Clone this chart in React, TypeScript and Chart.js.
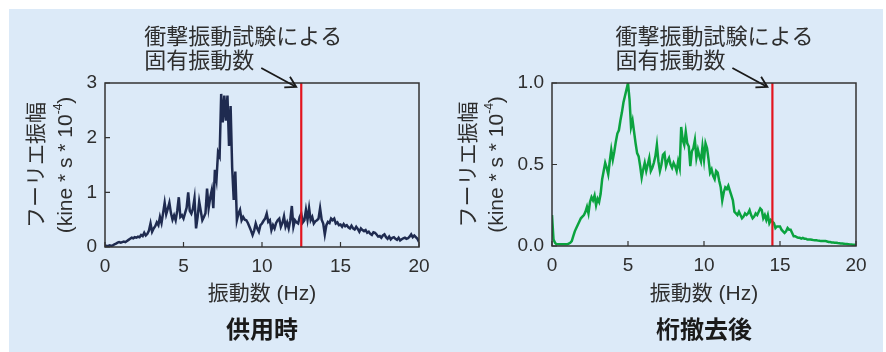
import React, { useEffect, useRef } from 'react';
import { Chart, registerables } from 'chart.js';

Chart.register(...registerables);

// ---- data (frequency grid 0.0 .. 20.0 Hz, 0.1 Hz step) ----
const FREQ_STEP = 0.1;
const freqs: number[] = Array.from({ length: 201 }, (_, i) => Math.round(i * FREQ_STEP * 10) / 10);

// 供用時 Fourier amplitude (kine*s*10^-4)
const serviceAmp: number[] = [
  0.03, 0.02, 0.02, 0.03, 0.02, 0.03, 0.05, 0.06, 0.08, 0.09,
  0.08, 0.09, 0.10, 0.09, 0.11, 0.13, 0.15, 0.17, 0.16, 0.18,
  0.17, 0.19, 0.18, 0.22, 0.20, 0.26, 0.21, 0.24, 0.30, 0.43,
  0.28, 0.34, 0.38, 0.45, 0.40, 0.55, 0.44, 0.62, 0.81, 0.60,
  0.70, 0.81, 0.62, 0.50, 0.58, 0.49, 0.66, 0.91, 0.55, 0.58,
  0.52, 0.62, 0.72, 1.00, 0.66, 0.61, 0.70, 0.89, 0.34, 0.55,
  0.83, 0.66, 0.49, 0.55, 0.62, 1.07, 0.71, 0.90, 1.04, 0.71,
  1.41, 1.23, 1.73, 1.66, 2.80, 2.28, 2.77, 2.31, 2.77, 1.85,
  2.58, 1.45, 0.86, 1.38, 0.49, 0.61, 0.68, 0.49, 0.55, 0.50,
  0.49, 0.44, 0.37, 0.30, 0.22, 0.30, 0.43, 0.34, 0.28, 0.40,
  0.43, 0.48, 0.52, 0.61, 0.46, 0.49, 0.31, 0.40, 0.34, 0.44,
  0.49, 0.52, 0.37, 0.44, 0.56, 0.37, 0.45, 0.34, 0.49, 0.75,
  0.37, 0.49, 0.45, 0.43, 0.55, 0.61, 0.45, 0.49, 0.68, 0.50,
  0.71, 0.49, 0.55, 0.43, 0.47, 0.49, 0.52, 0.71, 0.50, 0.43,
  0.23, 0.40, 0.46, 0.44, 0.52, 0.49, 0.52, 0.43, 0.45, 0.40,
  0.41, 0.37, 0.42, 0.38, 0.40, 0.36, 0.34, 0.39, 0.34, 0.32,
  0.37, 0.33, 0.28, 0.34, 0.31, 0.29, 0.31, 0.26, 0.28, 0.24,
  0.22, 0.27, 0.26, 0.23, 0.19, 0.20, 0.17, 0.21, 0.23, 0.18,
  0.15, 0.19, 0.14, 0.17, 0.18, 0.15, 0.13, 0.17, 0.12, 0.14,
  0.16, 0.17, 0.15, 0.16, 0.19, 0.23, 0.18, 0.21, 0.18, 0.15,
  0.09,
];

// 桁撤去後 Fourier amplitude (kine*s*10^-4)
const removedAmp: number[] = [
  0.19, 0.04, 0.02, 0.01, 0.01, 0.01, 0.01, 0.01, 0.01, 0.01,
  0.01, 0.015, 0.02, 0.03, 0.06, 0.09, 0.11, 0.13, 0.15, 0.17,
  0.18, 0.19, 0.21, 0.24, 0.20, 0.27, 0.30, 0.28, 0.31, 0.25,
  0.29, 0.27, 0.32, 0.41, 0.46, 0.51, 0.48, 0.44, 0.52, 0.59,
  0.53, 0.58, 0.64, 0.69, 0.71, 0.77, 0.82, 0.88, 0.92, 0.96,
  1.00, 0.90, 0.73, 0.77, 0.70, 0.63, 0.57, 0.55, 0.49, 0.42,
  0.47, 0.51, 0.46, 0.50, 0.54, 0.46, 0.48, 0.51, 0.55, 0.62,
  0.52, 0.46, 0.50, 0.56, 0.57, 0.49, 0.52, 0.54, 0.50, 0.48,
  0.51, 0.49, 0.46, 0.52, 0.48, 0.73, 0.65, 0.62, 0.70, 0.63,
  0.61, 0.49, 0.58, 0.60, 0.65, 0.54, 0.59, 0.55, 0.52, 0.61,
  0.53, 0.63, 0.60, 0.53, 0.45, 0.47, 0.43, 0.41, 0.46, 0.45,
  0.40, 0.36, 0.28, 0.33, 0.36, 0.35, 0.37, 0.34, 0.31, 0.28,
  0.21, 0.20, 0.19, 0.21, 0.19, 0.17, 0.18, 0.20, 0.19, 0.20,
  0.22, 0.19, 0.17, 0.18, 0.20, 0.19, 0.21, 0.23, 0.22, 0.17,
  0.19, 0.16, 0.19, 0.14, 0.16, 0.15, 0.14, 0.11, 0.12, 0.12,
  0.12, 0.10, 0.09, 0.08, 0.09, 0.11, 0.10, 0.10, 0.08, 0.06,
  0.06, 0.055, 0.05, 0.05, 0.045, 0.05, 0.045, 0.045, 0.04, 0.04,
  0.04, 0.038, 0.036, 0.035, 0.035, 0.033, 0.032, 0.03, 0.03, 0.03,
  0.03, 0.028, 0.025, 0.024, 0.022, 0.021, 0.02, 0.02, 0.018, 0.017,
  0.016, 0.015, 0.014, 0.013, 0.012, 0.011, 0.01, 0.009, 0.008, 0.007,
  0.006,
];

const xTicks: number[] = [0, 5, 10, 15, 20];
const serviceYTicks: number[] = [0, 1, 2, 3];
const removedYTicks: number[] = [0, 0.5, 1.0];
const serviceRefFreq = 12.5; // 衝撃振動試験による固有振動数
const removedRefFreq = 14.5;

const annotationLines: string[] = ['衝撃振動試験による', '固有振動数'];
const yTitleLine1 = 'フーリエ振幅';
const yTitleLine2 = ['(kine * s * 10', '-4', ')'];
const xTitle = '振動数 (Hz)';
const panelTitles: string[] = ['供用時', '桁撤去後'];

// ---- styles ----
const FONT = "'Liberation Sans', 'Noto Sans CJK JP', sans-serif";
const TEXT = '#2e2e2e';
const RED = '#e3141e';
const BG = '#dceaf8';

type PanelProps = {
  width: number;
  left: number;
  values: number[];
  color: string;
  yTicks: number[];
  yMax: number;
  decimals: number;
  refFreq: number;
  title: string;
  padLeft: number;
  padRight: number;
  padBottom: number;
  yTitleOffsets: [number, number];
};

function makeDecor(p: PanelProps) {
  return {
    id: 'decor',
    afterDatasetsDraw(chart: any) {
      const { ctx, chartArea } = chart;
      const { left, right, top, bottom } = chartArea;
      const xs = chart.scales.x;
      const ys = chart.scales.y;
      ctx.save();
      ctx.strokeStyle = '#333';
      ctx.lineWidth = 1.5;
      ctx.strokeRect(left, top, right - left, bottom - top);
      ctx.lineWidth = 1.2;
      ctx.beginPath();
      xTicks.forEach((v) => {
        const px = xs.getPixelForValue(v);
        ctx.moveTo(px, bottom);
        ctx.lineTo(px, bottom - 5);
      });
      p.yTicks.forEach((v) => {
        const py = ys.getPixelForValue(v);
        ctx.moveTo(left, py);
        ctx.lineTo(left + 5, py);
      });
      ctx.stroke();
      ctx.restore();
    },
    afterDraw(chart: any) {
      const { ctx, chartArea } = chart;
      const { left, right, top, bottom } = chartArea;
      const xs = chart.scales.x;
      const cx = (left + right) / 2;
      const cy = (top + bottom) / 2;
      const redX = xs.getPixelForValue(p.refFreq);
      ctx.save();
      ctx.fillStyle = TEXT;
      ctx.strokeStyle = '#1a1a1a';

      // annotation text
      ctx.font = `22px ${FONT}`;
      ctx.textAlign = 'left';
      ctx.textBaseline = 'middle';
      ctx.fillText(annotationLines[0], redX - 157, top - 45);
      ctx.fillText(annotationLines[1], redX - 157, top - 21);

      // arrow
      const sx = redX - 40, sy = top - 15, tx = redX - 5, ty = top + 4;
      const ang = Math.atan2(ty - sy, tx - sx);
      const hl = 12, ha = Math.PI / 6;
      ctx.lineWidth = 1.8;
      ctx.beginPath();
      ctx.moveTo(sx, sy);
      ctx.lineTo(tx, ty);
      ctx.moveTo(tx - hl * Math.cos(ang - ha), ty - hl * Math.sin(ang - ha));
      ctx.lineTo(tx, ty);
      ctx.lineTo(tx - hl * Math.cos(ang + ha), ty - hl * Math.sin(ang + ha));
      ctx.stroke();

      // x title
      ctx.textAlign = 'center';
      ctx.font = `21px ${FONT}`;
      ctx.fillText(xTitle, cx, 285);

      // panel title
      ctx.font = `bold 24px ${FONT}`;
      ctx.fillStyle = '#1a1a1a';
      ctx.fillText(p.title, cx, 322);

      // y title (rotated, two lines)
      ctx.fillStyle = TEXT;
      ctx.save();
      ctx.translate(left - p.yTitleOffsets[0], cy);
      ctx.rotate(-Math.PI / 2);
      ctx.font = `21px ${FONT}`;
      ctx.textAlign = 'center';
      ctx.fillText(yTitleLine1, 0, 0);
      ctx.restore();

      ctx.save();
      ctx.translate(left - p.yTitleOffsets[1], cy);
      ctx.rotate(-Math.PI / 2);
      ctx.textAlign = 'left';
      const big = `21px ${FONT}`;
      const small = `12px ${FONT}`;
      ctx.font = big;
      const w0 = ctx.measureText(yTitleLine2[0]).width;
      const w2 = ctx.measureText(yTitleLine2[2]).width;
      ctx.font = small;
      const w1 = ctx.measureText(yTitleLine2[1]).width;
      let x0 = -(w0 + w1 + w2) / 2;
      ctx.font = big;
      ctx.fillText(yTitleLine2[0], x0, 0);
      x0 += w0;
      ctx.font = small;
      ctx.fillText(yTitleLine2[1], x0, -7);
      x0 += w1;
      ctx.font = big;
      ctx.fillText(yTitleLine2[2], x0, 0);
      ctx.restore();

      ctx.restore();
    },
  };
}

function Panel(p: PanelProps) {
  const ref = useRef<HTMLCanvasElement>(null);
  const H = 343;
  useEffect(() => {
    if (!ref.current) return;
    const chart = new Chart(ref.current, {
      type: 'line',
      data: {
        datasets: [
          {
            data: [
              { x: p.refFreq, y: 0 },
              { x: p.refFreq, y: p.yMax },
            ],
            borderColor: RED,
            borderWidth: 2.2,
            pointRadius: 0,
            order: 0,
          },
          {
            data: freqs.map((f, i) => ({ x: f, y: p.values[i] })),
            borderColor: p.color,
            borderWidth: 2.5,
            pointRadius: 0,
            tension: 0,
            order: 1,
          },
        ],
      },
      options: {
        animation: false,
        responsive: false,
        devicePixelRatio: 1,
        layout: { padding: { left: p.padLeft, right: p.padRight, top: 74, bottom: p.padBottom } },
        plugins: { legend: { display: false }, tooltip: { enabled: false } },
        scales: {
          x: {
            type: 'linear',
            min: 0,
            max: 20,
            afterBuildTicks: (s: any) => {
              s.ticks = xTicks.map((v) => ({ value: v }));
            },
            afterFit: (s: any) => {
              s.height = 40;
            },
            grid: { display: false, drawTicks: false },
            border: { display: false },
            ticks: {
              padding: 8,
              color: TEXT,
              font: { family: FONT, size: 19 },
              maxRotation: 0,
              autoSkip: false,
              callback: (v: any) => String(v),
            },
          },
          y: {
            type: 'linear',
            min: 0,
            max: p.yMax,
            afterBuildTicks: (s: any) => {
              s.ticks = p.yTicks.map((v) => ({ value: v }));
            },
            afterFit: (s: any) => {
              s.width = 40;
            },
            grid: { display: false, drawTicks: false },
            border: { display: false },
            ticks: {
              padding: 8,
              color: TEXT,
              font: { family: FONT, size: 19 },
              autoSkip: false,
              callback: (v: any) => Number(v).toFixed(p.decimals),
            },
          },
        },
      },
      plugins: [makeDecor(p)],
    });
    return () => chart.destroy();
  }, []);
  return (
    <canvas
      ref={ref}
      width={p.width}
      height={H}
      style={{ position: 'absolute', left: p.left, top: 0, width: p.width, height: H }}
    />
  );
}

export default function App() {
  return (
    <div
      style={{
        position: 'absolute',
        left: 9,
        top: 9,
        width: 874,
        height: 343,
        background: BG,
        overflow: 'hidden',
      }}
    >
      <Panel
        width={434}
        left={0}
        values={serviceAmp}
        color="#1f2b50"
        yTicks={serviceYTicks}
        yMax={3}
        decimals={0}
        refFreq={serviceRefFreq}
        title={panelTitles[0]}
        padLeft={56}
        padRight={24}
        padBottom={65}
        yTitleOffsets={[68, 39]}
      />
      <Panel
        width={440}
        left={434}
        values={removedAmp}
        color="#0ba33f"
        yTicks={removedYTicks}
        yMax={1}
        decimals={1}
        refFreq={removedRefFreq}
        title={panelTitles[1]}
        padLeft={69}
        padRight={27}
        padBottom={66}
        yTitleOffsets={[83, 55]}
      />
    </div>
  );
}
